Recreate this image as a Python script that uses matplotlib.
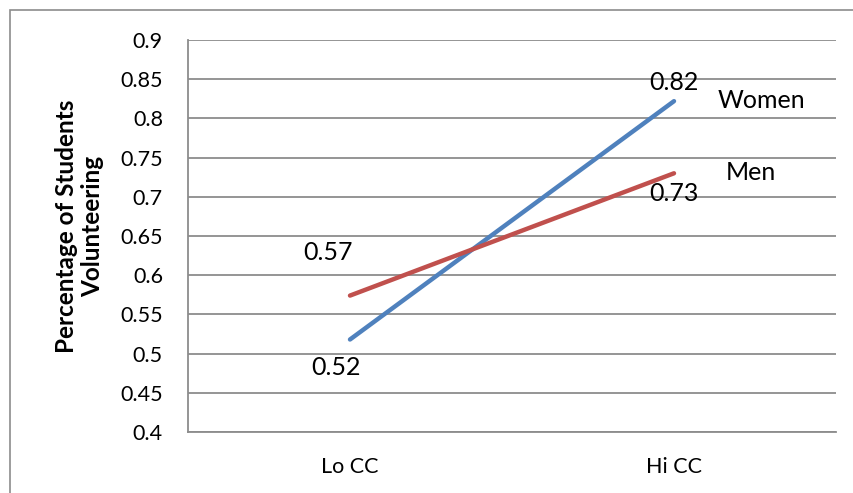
import matplotlib.pyplot as plt
import numpy as np
from matplotlib.patches import Rectangle

# Data
categories = ["Lo CC", "Hi CC"]
women = [0.518, 0.822]
men = [0.574, 0.73]
y_ticks = [0.4, 0.45, 0.5, 0.55, 0.6, 0.65, 0.7, 0.75, 0.8, 0.85, 0.9]

BLUE = "#4F81BD"
RED = "#C0504D"
GRID = "#8C8C8C"

plt.rcParams['font.family'] = ['Lato', 'DejaVu Sans']

fig = plt.figure(figsize=(8.54, 4.93), dpi=100)
ax = fig.add_axes([188/854, 61/493, 648/854, 392/493])

# Outer chart border (Excel-style)
fig.patches.append(Rectangle((10/854, -0.05), 1.1, (493-10)/493 + 0.05,
                             transform=fig.transFigure, fill=False,
                             edgecolor=GRID, linewidth=1.2))

x = np.arange(len(categories))
ax.plot(x, women, color=BLUE, linewidth=3.2, solid_capstyle='round', zorder=3)
ax.plot(x, men, color=RED, linewidth=3.2, solid_capstyle='round', zorder=3)

ax.set_xlim(-0.5, 1.5)
ax.set_ylim(0.4, 0.9)
ax.set_yticks(y_ticks)
ax.set_yticklabels([f"{v:g}" for v in y_ticks])
ax.set_xticks(x)
ax.set_xticklabels(categories)
ax.tick_params(axis='y', length=0, pad=18, labelsize=15.5)
ax.tick_params(axis='x', length=0, pad=18, labelsize=15.5)

ax.grid(axis='y', color=GRID, linewidth=1.3)
ax.set_axisbelow(True)
for s in ['top', 'right']:
    ax.spines[s].set_visible(False)
for s in ['left', 'bottom']:
    ax.spines[s].set_color(GRID)
    ax.spines[s].set_linewidth(1.3)

ax.set_ylabel("Percentage of Students\nVolunteering", fontsize=17.5,
              fontweight='bold', linespacing=1.15)
ax.yaxis.set_label_coords(-0.13, 0.525)

# Data labels
lab = dict(textcoords='offset pixels', ha='center', va='center', fontsize=18)
ax.annotate(f"{women[1]:.2f}", (x[1], women[1]), xytext=(0, 19), **lab)
ax.annotate(f"{men[1]:.2f}", (x[1], men[1]), xytext=(0, -20), **lab)
ax.annotate(f"{men[0]:.2f}", (x[0], men[0]), xytext=(-22, 43), **lab)
ax.annotate(f"{women[0]:.2f}", (x[0], women[0]), xytext=(-14, -28), **lab)
ax.annotate("Women", (x[1], women[1]), xytext=(87, 1), **lab)
ax.annotate("Men", (x[1], men[1]), xytext=(77, 1), **lab)

fig.savefig("out.png", dpi=100)
